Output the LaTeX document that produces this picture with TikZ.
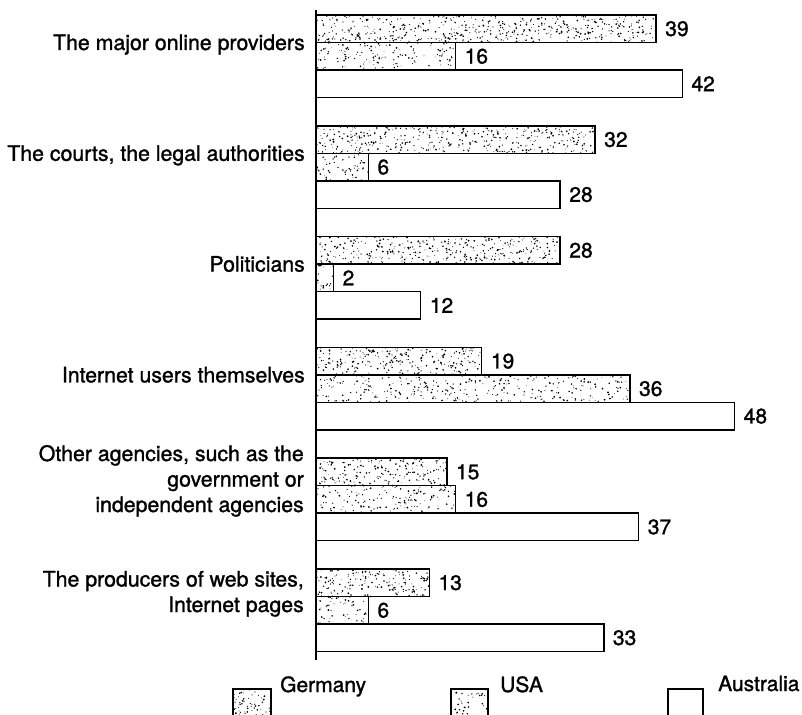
\documentclass[tikz,border=0pt]{standalone}
\usepackage{fontspec}
\setmainfont{TeX Gyre Heros}[FakeBold=1.3]
\newcommand{\speckle}[4]{% #1 x0, #2 width, #3 y-top, #4 height, density via \specarea
  \pgfmathtruncatemacro{\nd}{max(3,#2*#4/\specarea)}
  \foreach \k in {1,...,\nd}{%
    \fill (#1+rnd*#2, #3+rnd*#4) circle[radius={(0.35+0.65*rnd)*1pt}];
  }
}
\begin{document}
\begin{tikzpicture}[x=1pt,y=-1pt,
  bar/.style={draw=black,line width=1.5pt},
  cat/.style={anchor=base east,inner sep=0pt,align=right,font=\fontsize{21.3}{25.5}\selectfont},
  val/.style={anchor=west,inner sep=0pt,font=\fontsize{21}{24}\selectfont},
  leg/.style={anchor=base west,inner sep=0pt,font=\fontsize{21}{25}\selectfont}]
\useasboundingbox (0,0) rectangle (802,714);
\clip (0,0) rectangle (802,714);
\pgfmathsetseed{7}
% bars
\foreach \i/\g/\u/\a in {0/39/16/42,1/32/6/28,2/28/2/12,3/19/36/48,4/15/16/37,5/13/6/33}{
  \pgfmathsetmacro{\yt}{15+110.8*\i}
  \pgfmathsetmacro{\yu}{\yt+27.5}
  \pgfmathsetmacro{\ya}{\yt+55}
  % Germany
  \def\specarea{18}
  \speckle{316}{\g*8.72}{\yt}{27.5}
  \draw[bar] (316,\yt) rectangle ++(\g*8.72,27.5);
  \node[val] (vg\i) at (316+\g*8.72+9,\yt+13.75) {\g};
  % USA
  \def\specarea{26}
  \speckle{316}{\u*8.72}{\yu}{27.5}
  \draw[bar] (316,\yu) rectangle ++(\u*8.72,27.5);
  \node[val] (vu\i) at (316+\u*8.72+9,\yu+13.75) {\u};
  % Australia
  \draw[bar] (316,\ya) rectangle ++(\a*8.72,27.5);
  \node[val] (va\i) at (316+\a*8.72+9,\ya+13.75) {\a};
}
% axis
\draw[line width=2.2pt] (316,10) -- (316,660);
% category labels
\node[cat] (c0) at (305,50) {The major online providers};
\node[cat] (c1) at (305,160.8) {The courts, the legal authorities};
\node[cat] (c2) at (305,271.6) {Politicians};
\node[cat] (c3) at (305,382.4) {Internet users themselves};
\node[cat] (c4) at (304,512) {Other agencies, such as the\\government or\\independent agencies};
\node[cat] (c5) at (304,612) {The producers of web sites,\\Internet pages};
% legend
\def\specarea{18}
\speckle{233}{38}{689}{30}
\draw[bar,line width=1.3pt] (233,689) rectangle (271,720);
\node[leg] (lg) at (280,692) {Germany};
\def\specarea{26}
\speckle{451}{37}{689}{30}
\draw[bar,line width=1.3pt] (451,689) rectangle (488,720);
\node[leg] (lu) at (500,692) {USA};
\draw[bar,line width=1.3pt] (668,689) rectangle (703,720);
\node[leg] (la) at (718,691) {Australia};
\end{tikzpicture}
\end{document}
